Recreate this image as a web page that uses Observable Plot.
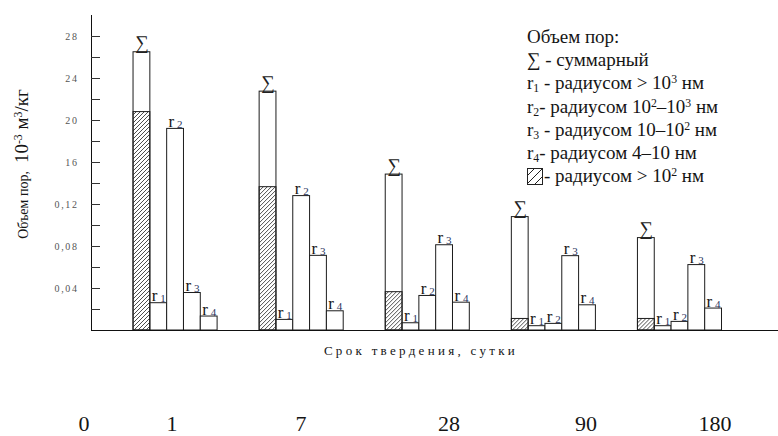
<!DOCTYPE html>
<html>
<head>
<meta charset="utf-8">
<script src="https://cdn.jsdelivr.net/npm/d3@7"></script>
<script src="https://cdn.jsdelivr.net/npm/@observablehq/plot@0.6"></script>
<style>
  body { margin: 0; background: #fff; }
  #wrap {
    position: relative; width: 778px; height: 436px; overflow: hidden;
    font-family: "Liberation Serif", "Times New Roman", serif; color: #151515;
  }
  #chart svg { display: block; }
  #chart g[aria-label="y-axis tick label"] text { letter-spacing: 1.6px; }
  sup, sub { font-size: 0.62em; line-height: 0; }
  sup { vertical-align: 0.55em; }
  sub { vertical-align: -0.25em; }
  #ytitle {
    position: absolute; left: 22px; top: 164px; white-space: nowrap;
    transform: translate(-50%, -50%) rotate(-90deg);
  }
  #legend {
    position: absolute; left: 527px; top: 25px; font-size: 19px; line-height: 23.2px;
    white-space: nowrap;
  }
  #legend .swatch { vertical-align: -3px; margin-right: 1px; }
  #xtitle {
    position: absolute; left: 421px; top: 344px; transform: translateX(-50%);
    font-size: 13px; line-height: 13px; letter-spacing: 3.3px; white-space: nowrap;
  }
  #days .day {
    position: absolute; top: 413px; font-size: 22px; line-height: 22px;
    transform: translateX(-50%);
  }
</style>
</head>
<body>
<svg width="0" height="0" style="position:absolute">
  <defs>
    <pattern id="hatch" patternUnits="userSpaceOnUse" width="4" height="4">
      <path d="M-1,1 L1,-1 M0,4 L4,0 M3,5 L5,3" stroke="#3a3a3a" stroke-width="0.9"/>
    </pattern>
    <pattern id="hatchWide" patternUnits="userSpaceOnUse" width="8" height="8">
      <path d="M-2,2 L2,-2 M0,8 L8,0 M6,10 L10,6" stroke="#222" stroke-width="1"/>
    </pattern>
  </defs>
</svg>
<div id="wrap">
  <div id="chart"></div>
  <div id="ytitle"><span style="font-size:14px">Объем пор,</span>&nbsp;&nbsp;<span style="font-size:19px">10<sup>-3</sup> м<sup>3</sup>/кг</span></div>
  <div id="legend">
    <div>Объем пор:</div>
    <div>∑ - суммарный</div>
    <div>r<sub>1</sub> - радиусом &gt; 10<sup>3</sup> нм</div>
    <div>r<sub>2</sub>- радиусом 10<sup>2</sup>–10<sup>3</sup> нм</div>
    <div>r<sub>3</sub> - радиусом 10–10<sup>2</sup> нм</div>
    <div>r<sub>4</sub>- радиусом 4–10 нм</div>
    <div><svg class="swatch" width="16" height="17"><rect x="0.5" y="0.5" width="15" height="16" fill="url(#hatchWide)" stroke="#222"/></svg>- радиусом &gt; 10<sup>2</sup> нм</div>
  </div>
  <div id="xtitle">Срок твердения, сутки</div>
  <div id="days"></div>
</div>
<script>
// Curing time, days
const days = ["1", "7", "28", "90", "180"];
// Bar order inside each group: total, then the four radius classes
const poreClasses = ["Σ", "r1", "r2", "r3", "r4"];

// Pore volume, 10^-3 m3/kg
const totalVolume = [0.265, 0.2275, 0.1485, 0.108, 0.088];
const over100nm   = [0.208, 0.1365, 0.0365, 0.011, 0.011];
const r1Volume    = [0.026, 0.0101, 0.0069, 0.0041, 0.0041];
const r2Volume    = [0.192, 0.128, 0.0329, 0.0063, 0.0082];
const r3Volume    = [0.0357, 0.0711, 0.0812, 0.0708, 0.0623];
const r4Volume    = [0.0133, 0.0183, 0.0265, 0.024, 0.0209];

// Y axis ticks and their printed labels
const yTicks = [0.02, 0.04, 0.06, 0.08, 0.10, 0.12, 0.14, 0.16, 0.18, 0.20, 0.22, 0.24, 0.26, 0.28];
const yLabelTicks = [0.04, 0.08, 0.12, 0.16, 0.20, 0.24, 0.28];
const yTickLabels = ["0,04", "0,08", "0,12", "16", "20", "24", "28"];

// Labels of the lower day row
const dayRow = ["0", "1", "7", "28", "90", "180"];
const dayRowLeft = [84, 172, 301, 449, 586, 715];

const series = {Σ: totalVolume, r1: r1Volume, r2: r2Volume, r3: r3Volume, r4: r4Volume};
const bars = days.flatMap((day, i) => poreClasses.map((cls) => ({day, cls, value: series[cls][i]})));
const sums = bars.filter((d) => d.cls === "Σ");
const radii = bars.filter((d) => d.cls !== "Σ");
const hatched = days.map((day, i) => ({day, cls: "Σ", value: over100nm[i]}));
const yLabel = new Map(yLabelTicks.map((t, i) => [t, yTickLabels[i]]));

const serif = "'Liberation Serif', 'Times New Roman', serif";

const chart = Plot.plot({
  width: 778,
  height: 380,
  marginLeft: 91,
  marginRight: 0,
  marginTop: 15,
  marginBottom: 50,
  style: {fontFamily: serif, background: "transparent", color: "#151515"},
  fx: {domain: days, paddingInner: 0, paddingOuter: 0.224, align: 0, round: false, axis: null, label: null},
  x: {domain: poreClasses, paddingInner: 0, paddingOuter: 1.25, align: 1, round: false, axis: null},
  y: {domain: [0, 0.30], axis: null},
  marks: [
    Plot.barY(bars, {fx: "day", x: "cls", y: "value", fill: "white", stroke: "#1c1c1c", strokeWidth: 1}),
    Plot.barY(hatched, {fx: "day", x: "cls", y: "value", fill: "url(#hatch)", stroke: "#1c1c1c", strokeWidth: 1}),
    Plot.text(sums, {fx: "day", x: "cls", y: "value", text: () => "∑", lineAnchor: "bottom", dy: -3, fontSize: 19, fill: "#222"}),
    Plot.text(radii, {fx: "day", x: "cls", y: "value", text: () => "r", textAnchor: "start", lineAnchor: "bottom", dx: -7, dy: -2, fontSize: 17, fill: "#151515"}),
    Plot.text(radii, {fx: "day", x: "cls", y: "value", text: (d) => d.cls.slice(1), textAnchor: "start", lineAnchor: "bottom", dx: 1.5, dy: -1, fontSize: 11, fill: "#2a3560"}),
    Plot.ruleY([0], {stroke: "#111", strokeWidth: 1.2, insetRight: -60}),
    Plot.frame({anchor: "left", facetAnchor: "left", stroke: "#111"}),
    Plot.axisY({ticks: yTicks, tickSize: 9, dx: 9, tickFormat: () => "", stroke: "#333", label: null}),
    Plot.axisY({ticks: yLabelTicks, tickSize: 0, tickPadding: 13, tickFormat: (d) => yLabel.get(d), fontSize: 10, fill: "#555", label: null})
  ]
});
document.getElementById("chart").append(chart);

const row = document.getElementById("days");
dayRow.forEach((t, i) => {
  const s = document.createElement("span");
  s.className = "day";
  s.style.left = dayRowLeft[i] + "px";
  s.textContent = t;
  row.append(s);
});
</script>
</body>
</html>
